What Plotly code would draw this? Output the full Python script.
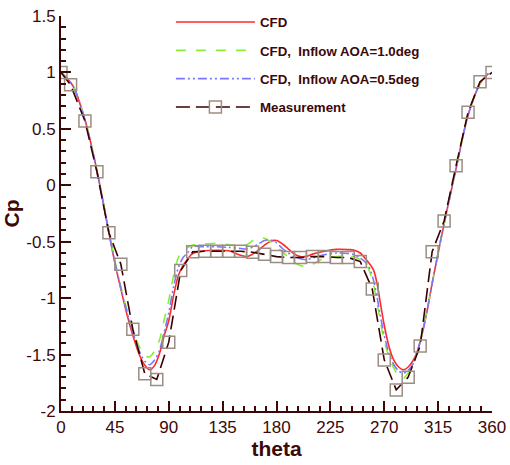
import plotly.graph_objects as go

# Measurement data
theta_meas = [0, 8, 20, 30, 40, 50, 60, 70, 80, 90, 100, 110, 120, 130, 140, 150, 160, 170, 180,
              190, 200, 210, 220, 230, 240, 250, 260, 270, 280, 290, 300, 310, 320, 330, 340, 350, 360]
cp_meas = [1.0, 0.89, 0.57, 0.12, -0.42, -0.70, -1.275, -1.67, -1.72, -1.39, -0.756, -0.59, -0.585,
           -0.585, -0.585, -0.585, -0.593, -0.61, -0.632, -0.64, -0.64, -0.632, -0.632, -0.64, -0.64,
           -0.676, -0.92, -1.547, -1.813, -1.70, -1.423, -0.588, -0.316, 0.174, 0.647, 0.918, 1.0]

# CFD data (common theta grid)
theta_cfd = [0, 10, 20, 30, 40, 45, 50, 55, 60, 65, 70, 74, 78, 82, 86, 90, 94, 98, 102, 106, 110,
             120, 130, 140, 150, 155, 160, 165, 170, 175, 180, 185, 190, 195, 200, 205, 210, 220,
             230, 240, 245, 250, 255, 258, 261, 264, 267, 270, 274, 278, 282, 286, 290, 294, 298,
             302, 306, 310, 315, 320, 330, 340, 350, 357]
cp_cfd = [1.00, 0.88, 0.58, 0.13, -0.42, -0.69, -0.92, -1.14, -1.33, -1.49, -1.595, -1.635, -1.60,
          -1.50, -1.34, -1.20, -0.98, -0.80, -0.71, -0.65, -0.605,
          -0.58, -0.575, -0.58, -0.62, -0.632, -0.61, -0.575, -0.53, -0.495, -0.49, -0.52, -0.565,
          -0.61, -0.632, -0.63, -0.61, -0.585,
          -0.568, -0.57, -0.575, -0.60, -0.66, -0.70, -0.75, -0.87, -1.06, -1.24, -1.43, -1.55,
          -1.61, -1.635, -1.61, -1.555, -1.46,
          -1.30, -1.10, -0.87, -0.60, -0.34, 0.15, 0.62, 0.90, 0.99]
cp_aoa10 = [1.00, 0.88, 0.58, 0.13, -0.41, -0.67, -0.90, -1.10, -1.28, -1.42, -1.51, -1.52, -1.47,
            -1.38, -1.20, -1.02, -0.80, -0.64, -0.575, -0.55, -0.53,
            -0.52, -0.515, -0.525, -0.54, -0.53, -0.49, -0.465, -0.47, -0.50, -0.545, -0.59, -0.64,
            -0.685, -0.71, -0.72, -0.70, -0.645,
            -0.632, -0.63, -0.635, -0.66, -0.70, -0.77, -0.88, -1.04, -1.22, -1.38, -1.52, -1.62,
            -1.69, -1.71, -1.66, -1.59, -1.46,
            -1.30, -1.10, -0.87, -0.60, -0.34, 0.15, 0.62, 0.90, 0.99]
cp_aoa05 = [1.00, 0.88, 0.58, 0.13, -0.415, -0.68, -0.91, -1.12, -1.30, -1.46, -1.56, -1.59, -1.55,
            -1.47, -1.31, -1.13, -0.90, -0.73, -0.64, -0.595, -0.545,
            -0.545, -0.545, -0.55, -0.56, -0.565, -0.55, -0.52, -0.49, -0.485, -0.51, -0.56, -0.60,
            -0.635, -0.65, -0.66, -0.645, -0.615,
            -0.60, -0.605, -0.615, -0.645, -0.69, -0.74, -0.84, -0.99, -1.17, -1.33, -1.49, -1.59,
            -1.645, -1.665, -1.64, -1.585, -1.46,
            -1.30, -1.10, -0.87, -0.60, -0.34, 0.15, 0.62, 0.90, 0.99]

x_ticks = [0, 45, 90, 135, 180, 225, 270, 315, 360]
y_ticks = [-2, -1.5, -1, -0.5, 0, 0.5, 1, 1.5]
y_labels = ["-2", "-1.5", "-1", "-0.5", "0", "0.5", "1", "1.5"]

AX = "#3d0808"

fig = go.Figure()
fig.add_trace(go.Scatter(x=theta_cfd, y=cp_cfd, mode="lines", name="CFD", legendgroup="a",
                         line=dict(color="#ff2a2a", width=1.6, shape="spline", smoothing=0.8)))
fig.add_trace(go.Scatter(x=theta_cfd, y=cp_aoa10, mode="lines", name="CFD,  Inflow AOA=1.0deg",
                         legendgroup="b",
                         line=dict(color="#88f030", width=1.6, dash="10px,10px", shape="spline",
                                   smoothing=0.8)))
fig.add_trace(go.Scatter(x=theta_cfd, y=cp_aoa05, mode="lines", name="CFD,  Inflow AOA=0.5deg",
                         legendgroup="c",
                         line=dict(color="#7878ff", width=1.6, dash="9px,3px,2px,3px,2px,3px",
                                   shape="spline", smoothing=0.8)))
fig.add_trace(go.Scatter(x=theta_meas, y=cp_meas, mode="lines+markers", name="Measurement",
                         legendgroup="d",
                         line=dict(color="#3a0000", width=1.6, dash="14px,6px"),
                         marker=dict(symbol="square-open", size=12, color="#9a8e84",
                                     line=dict(width=1.5, color="#9a8e84"))))

fig.update_layout(
    width=510, height=465,
    margin=dict(l=61, r=18, t=16, b=54, autoexpand=False),
    paper_bgcolor="white", plot_bgcolor="white",
    font=dict(family="Arial, Liberation Sans, sans-serif", color=AX),
    legend=dict(x=0.255, y=1.023, xanchor="left", yanchor="top", bgcolor="rgba(0,0,0,0)",
                itemwidth=79, tracegroupgap=8,
                font=dict(size=13.3, family="Arial, Liberation Sans, sans-serif", color=AX,
                          weight="bold")),
    xaxis=dict(range=[0, 360], tickvals=x_ticks, showline=True, linecolor=AX, linewidth=2,
               ticks="inside", ticklen=10, tickwidth=2, tickcolor=AX, showgrid=False, zeroline=False,
               tickfont=dict(size=17, color=AX), automargin=False,
               minor=dict(dtick=9, ticks="inside", ticklen=5, tickwidth=1.5, tickcolor=AX),
               title=dict(text="<b>theta</b>", font=dict(size=21, color=AX), standoff=4)),
    yaxis=dict(range=[-2, 1.5], tickvals=y_ticks, ticktext=y_labels, showline=True, linecolor=AX,
               linewidth=2, ticks="inside", ticklen=10, tickwidth=2, tickcolor=AX, showgrid=False,
               zeroline=False, tickfont=dict(size=17, color=AX), automargin=False,
               minor=dict(dtick=0.1, ticks="inside", ticklen=5, tickwidth=1.5, tickcolor=AX),
               title=dict(text="<b>Cp</b>", font=dict(size=21, color=AX), standoff=6)),
)

fig.write_html("out.html", config={"displayModeBar": False},
               post_script="document.body.style.margin='0';")
